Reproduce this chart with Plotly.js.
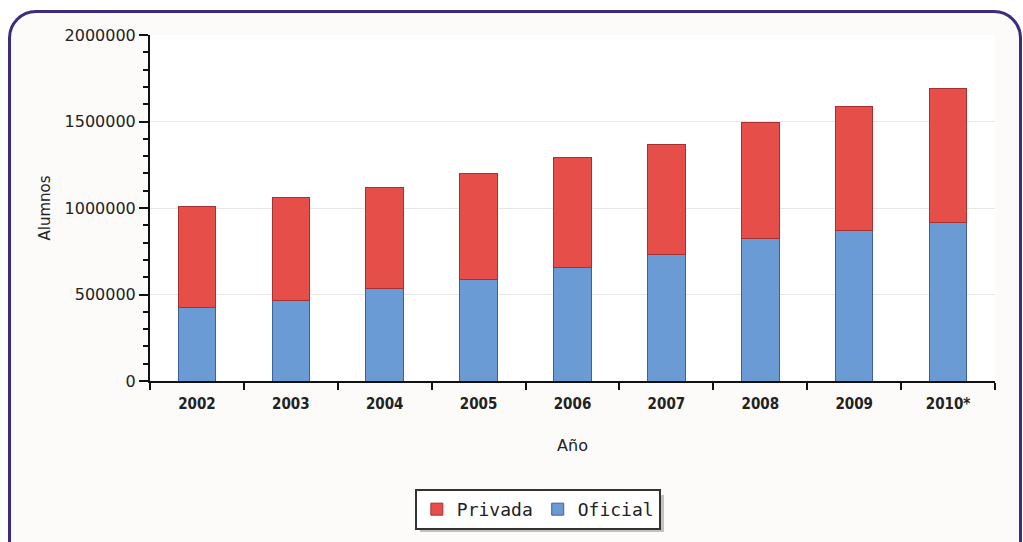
<!DOCTYPE html>
<html>
<head>
<meta charset="utf-8">
<script src="https://cdn.plot.ly/plotly-3.0.1.min.js"></script>
<style>
  html, body { margin: 0; padding: 0; background: #ffffff; }
  #wrap { position: relative; width: 1023px; height: 542px; overflow: hidden; }
  #frame { position: absolute; left: 8px; top: 10px; width: 1008px; height: 560px;
           border: 3px solid #3b2c80; border-radius: 28px; background: #fcfbf9; z-index: 0; }
  #chart { position: absolute; left: 0; top: 0; width: 1023px; height: 542px; z-index: 1; }
</style>
</head>
<body>
<div id="wrap">
  <div id="frame"></div>
  <div id="chart"></div>
</div>
<script>
const years = ["2002", "2003", "2004", "2005", "2006", "2007", "2008", "2009", "2010*"];
const oficial = [422000, 468000, 532000, 584000, 655000, 734000, 821000, 871000, 919000];
const privada = [584000, 590000, 584000, 618000, 636000, 634000, 676000, 715000, 773000];
const yTicks = [0, 500000, 1000000, 1500000, 2000000];
const yTickText = ["0", "500000", "1000000", "1500000", "2000000"];

const traces = [
  {
    type: "bar", name: "Oficial", x: years, y: oficial, width: 0.4,
    marker: { color: "#6b9bd4", line: { color: "#3f5f98", width: 1 } },
    hoverinfo: "x+y+name"
  },
  {
    type: "bar", name: "Privada", x: years, y: privada, width: 0.4,
    marker: { color: "#e64e49", line: { color: "#a83030", width: 1 } },
    hoverinfo: "x+y+name"
  }
];

const layout = {
  width: 1023, height: 542,
  margin: { l: 150, r: 28, t: 35, b: 161 },
  paper_bgcolor: "rgba(0,0,0,0)",
  plot_bgcolor: "#ffffff",
  barmode: "stack",
  showlegend: true,
  legend: {
    orientation: "h", x: 0.459, xanchor: "center", y: -0.312, yanchor: "top",
    traceorder: "reversed",
    bgcolor: "#ffffff", bordercolor: "#333333", borderwidth: 2,
    font: { family: "DejaVu Sans Mono", size: 18, color: "#222" },
    itemwidth: 30
  },
  shapes: [
    { type: "rect", xref: "paper", yref: "paper", layer: "below",
      x0: 0.3195, x1: 0.6083, y0: -0.4364, y1: -0.3295,
      fillcolor: "#c4c2c0", line: { width: 0 } }
  ],
  xaxis: {
    type: "category", range: [-0.5, 8.5],
    tickson: "boundaries", ticks: "outside", ticklen: 7, tickwidth: 2, tickcolor: "#111",
    showline: true, linecolor: "#111", linewidth: 2, showgrid: false,
    ticklabelstandoff: 8,
    tickfont: { family: "DejaVu Sans Condensed", size: 15, color: "#222", weight: "bold" },
    title: { text: "Año", font: { family: "DejaVu Sans", size: 16, color: "#222" }, standoff: 28 }
  },
  yaxis: {
    range: [0, 2000000], tickvals: yTicks, ticktext: yTickText,
    ticks: "outside", ticklen: 9, tickwidth: 2, tickcolor: "#111",
    showline: true, linecolor: "#111", linewidth: 2,
    showgrid: true, gridcolor: "#e6e6e6", gridwidth: 1, zeroline: false,
    minor: { dtick: 100000, ticks: "outside", ticklen: 5, tickwidth: 2, tickcolor: "#111", showgrid: false },
    tickfont: { family: "DejaVu Sans", size: 16, color: "#222" },
    title: { text: "Alumnos", font: { family: "DejaVu Sans", size: 15, color: "#222" }, standoff: 10 }
  }
};

Plotly.newPlot("chart", traces, layout, { displayModeBar: false, staticPlot: true });
</script>
</body>
</html>
